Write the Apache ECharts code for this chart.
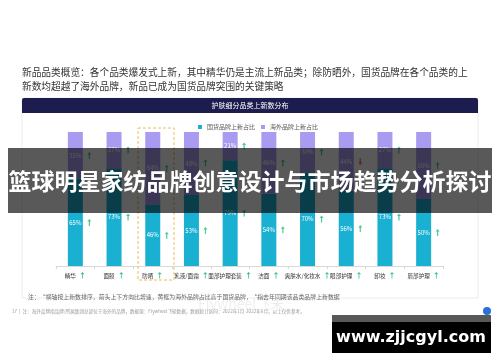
<!DOCTYPE html>
<html><head><meta charset="utf-8">
<script src="https://cdn.jsdelivr.net/npm/echarts@6/dist/echarts.min.js"></script>
<style>html,body{margin:0;padding:0;background:#fff}#c{width:500px;height:362px}</style>
</head><body><div id="c"></div>
<script>
var categories = ['精华','面膜','防晒','乳液/面霜','面部护理套装','洁面','爽肤水/化妆水','眼部护理','卸妆','唇部护理'];
var domesticShare = [65,73,46,53,79,54,70,56,73,50];
var overseasShare = [35,27,54,48,21,46,30,44,27,50];
var domesticTrend = ['up','up','up','up','up','up','up','up','up','up'];
var overseasTrend = ['up','up','up','up','up','up','up','down','up','up'];
var categoryTrend = ['up','up','up','up','up','up','up','up','up','up'];
var legendNames = ['国货品牌上新占比','海外品牌上新占比'];

var FONT = '"Noto Sans CJK SC","Noto Sans",sans-serif';
var cDom = '#19b0d2', cOver = '#a99cf0', cUp = '#22bb7a', cDown = '#d9484a';
var arrowUp = 'path://M5,0 L10,5 L6.5,5 L6.5,14 L3.5,14 L3.5,5 L0,5 Z';
var arrowDown = 'path://M5,14 L10,9 L6.5,9 L6.5,0 L3.5,0 L3.5,9 L0,9 Z';

var arrowData = [];
categories.forEach(function(c,i){
  arrowData.push({value:[i, domesticShare[i]/2], symbol: domesticTrend[i]==='up'?arrowUp:arrowDown,
    itemStyle:{color: domesticTrend[i]==='up'?cUp:cDown}});
  arrowData.push({value:[i, domesticShare[i]+overseasShare[i]/2], symbol: overseasTrend[i]==='up'?arrowUp:arrowDown,
    itemStyle:{color: overseasTrend[i]==='up'?cUp:cDown}});
});

var chart = echarts.init(document.getElementById('c'), null, {renderer:'canvas'});
var option = {
  backgroundColor:'#fff',
  animation:false,
  textStyle:{fontFamily:FONT},
  grid:{left:56,right:57,top:132,bottom:96,containLabel:false},
  legend:{
    top:119,left:193,itemWidth:4,itemHeight:4,itemGap:6,icon:'rect',
    textStyle:{fontSize:6,color:'#555',fontFamily:FONT},
    data:legendNames
  },
  xAxis:{
    type:'category',data:categories,
    axisLine:{lineStyle:{color:'#d8d8d8'}},
    axisTick:{show:true,length:3,lineStyle:{color:'#d8d8d8'}},
    axisLabel:{interval:0,margin:6,fontSize:5.6,color:'#333',fontFamily:FONT,
      formatter:function(v,i){return v+'{'+(categoryTrend[i]==='up'?'u':'d')+'|'+(categoryTrend[i]==='up'?'↑':'↓')+'}';},
      rich:{u:{color:cUp,fontSize:7,fontWeight:'bold',padding:[0,0,0,3]},d:{color:cDown,fontSize:7,fontWeight:'bold',padding:[0,0,0,3]}}}
  },
  yAxis:{type:'value',min:0,max:100,show:false,splitLine:{show:false}},
  series:[
    {name:legendNames[0],type:'bar',stack:'s',barWidth:15,data:domesticShare,itemStyle:{color:cDom},
      label:{show:true,position:'inside',color:'#fff',fontSize:6,formatter:'{c}%'}},
    {name:legendNames[1],type:'bar',stack:'s',barWidth:15,data:overseasShare,itemStyle:{color:cOver},
      label:{show:true,position:'inside',color:'#fff',fontSize:6,formatter:'{c}%'}},
    {type:'scatter',data:arrowData,symbolSize:[4,7],symbolOffset:[14,0],z:5,silent:true}
  ],
  graphic:[
    {type:'text',left:22,top:67,style:{text:'新品品类概览：各个品类爆发式上新，其中精华仍是主流上新品类；除防晒外，国货品牌在各个品类的上',fontSize:9.7,fill:'#333',fontFamily:FONT}},
    {type:'text',left:22,top:81,style:{text:'新数均超越了海外品牌，新品已成为国货品牌突围的关键策略',fontSize:9.7,fill:'#333',fontFamily:FONT}},
    {type:'rect',shape:{x:22,y:98,width:456,height:200},style:{fill:'none',stroke:'#ececec',lineWidth:1},z:0},
    {type:'rect',shape:{x:22,y:98,width:456,height:15,r:[2,2,0,0]},style:{fill:'#1d1c4e'},z:1},
    {type:'text',x:250,y:105.5,style:{text:'护肤细分品类上新数分布',fontSize:7,fill:'#fff',align:'center',verticalAlign:'middle',fontFamily:FONT},z:2},
    {type:'rect',shape:{x:138,y:128,width:36,height:152},style:{fill:'none',stroke:'#eebd5a',lineWidth:1,lineDash:[3,2]},z:3},
    {type:'text',left:28,top:294,style:{text:'注：“横轴按上新数排序，箭头上下方向比增速，黄框为海外品牌占比高于国货品牌，  *指去年同期该品类品牌上新数据',fontSize:5.9,fill:'#666',fontFamily:FONT}},
    {type:'text',left:12,top:309,style:{text:'17  |  注：海外品牌指品牌/所属集团总部位于海外的品牌，数据源：Flywheel飞轮数据，数据统计区间：2022年1月-2022年6月，以上仅供参考。',fontSize:4.6,fill:'#999',fontFamily:FONT}},
    {type:'text',left:198,top:297,style:{text:'Flywheel飞未',fontSize:14,fill:'rgba(0,0,0,0.07)',fontFamily:FONT}},
    {type:'circle',shape:{cx:487,cy:311,r:4},style:{fill:'#2c6fd8'}},
    {type:'rect',shape:{x:8,y:148,width:484,height:65},style:{fill:'rgba(0,0,0,0.65)'},z:100},
    {type:'text',x:250,y:181,style:{text:'篮球明星家纺品牌创意设计与市场趋势分析探讨',fontSize:23,fontWeight:'bold',fill:'#fff',align:'center',verticalAlign:'middle',fontFamily:'"Noto Sans CJK SC",sans-serif'},z:101},
    {type:'rect',shape:{x:332,y:315,width:159,height:38},style:{fill:'#000'},z:100},
    {type:'rect',shape:{x:332,y:315,width:159,height:7},style:{fill:'#585858'},z:101},
    {type:'text',x:411,y:338,style:{text:'www.zjjcgyl.com',fontSize:16,fontWeight:'bold',fill:'#fff',align:'center',verticalAlign:'middle',fontFamily:'"DejaVu Sans",sans-serif'},z:102}
  ]
};
chart.setOption(option);
</script></body></html>
